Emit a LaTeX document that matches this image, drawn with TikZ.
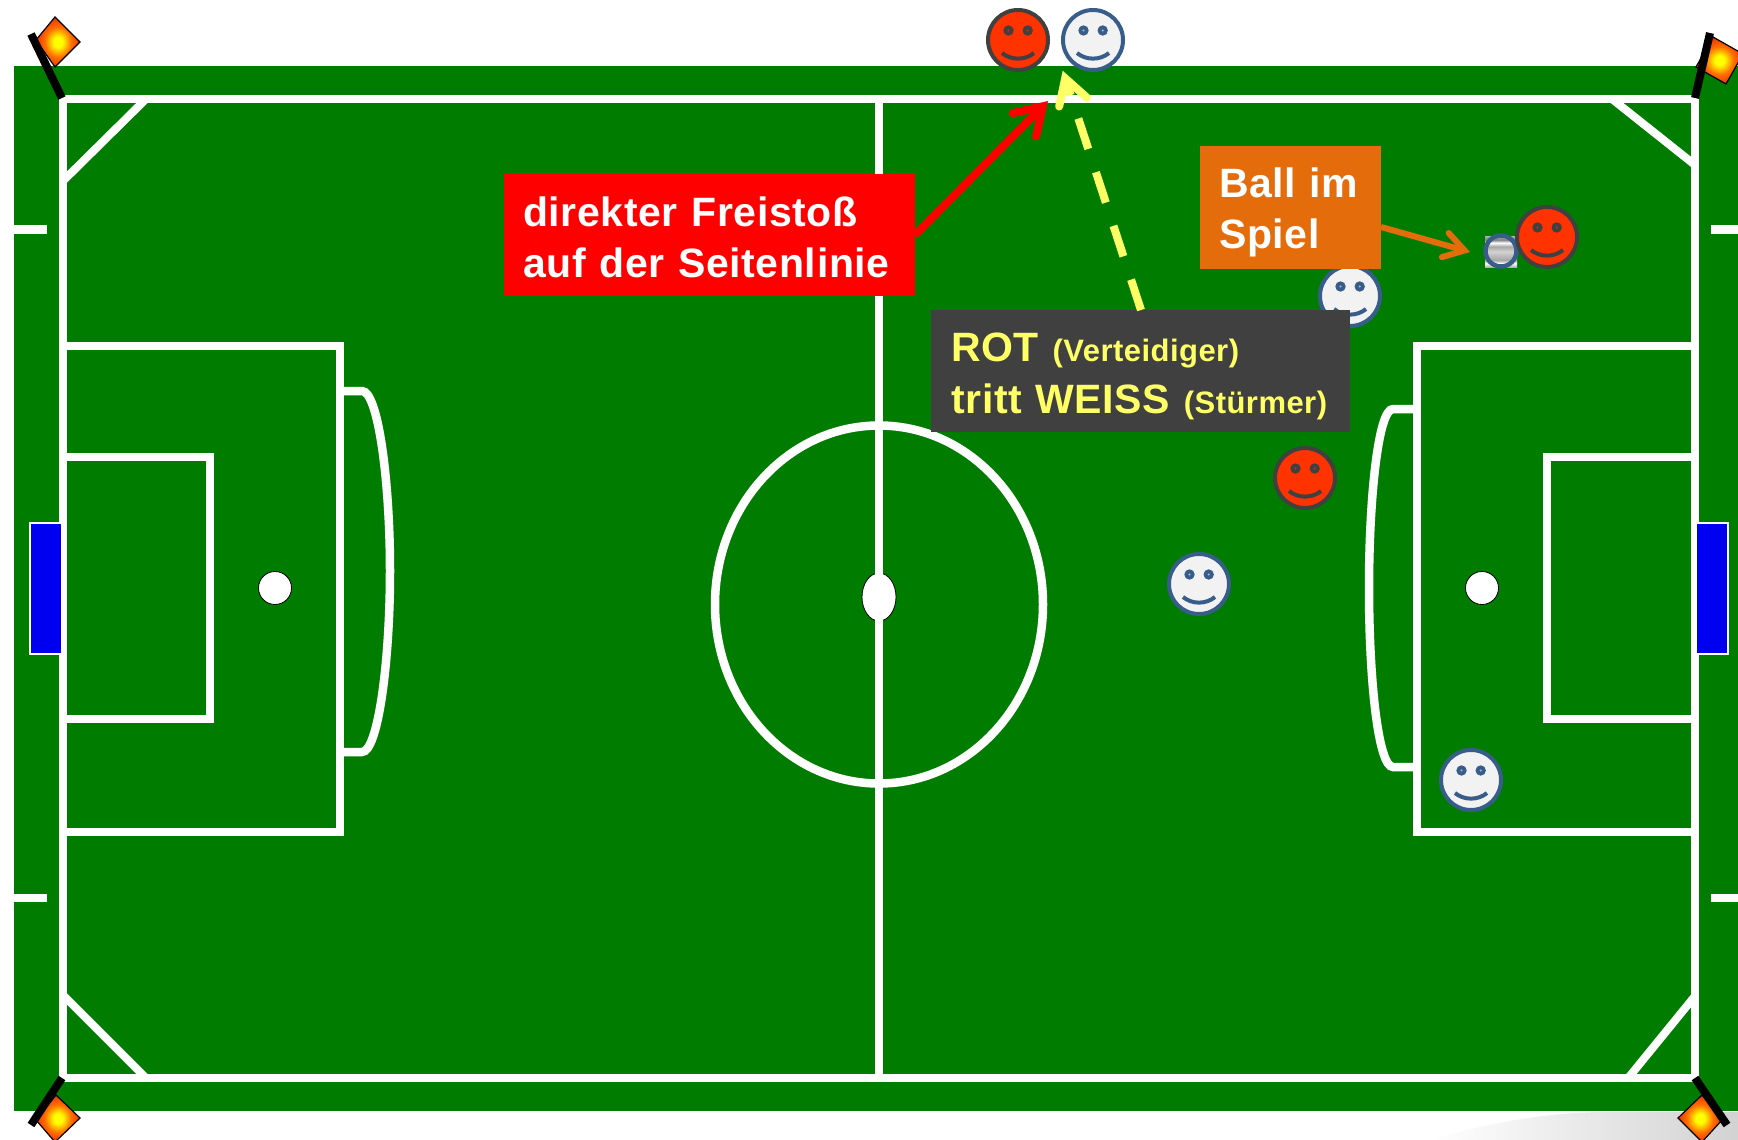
\documentclass[tikz,border=0pt]{standalone}
\usepackage{fontspec}
\setmainfont{Liberation Sans}
\newfontfamily\lab[WordSpace=2.6,LetterSpace=1.5]{Liberation Sans}
\usetikzlibrary{arrows.meta,shapes.geometric}
\definecolor{pitch}{RGB}{0,125,0}
\definecolor{redface}{RGB}{255,51,0}
\definecolor{darkline}{RGB}{64,64,64}
\definecolor{whiteface}{RGB}{242,242,242}
\definecolor{blueline}{RGB}{56,93,138}
\definecolor{orangebox}{RGB}{228,108,10}
\definecolor{yellowtext}{RGB}{255,255,102}
\definecolor{goalblue}{RGB}{0,0,240}
\definecolor{flagmid}{RGB}{255,110,0}
\definecolor{flagout}{RGB}{240,50,0}
\pgfdeclareradialshading{flagshade}{\pgfpoint{0bp}{0bp}}{color(0bp)=(yellow); color(5bp)=(yellow); color(15bp)=(flagmid); color(25bp)=(flagout); color(50bp)=(flagout)}
\pgfdeclareverticalshading{ballshade}{100bp}{color(0bp)=(gray!60); color(25bp)=(gray!60); color(31bp)=(white); color(36bp)=(gray!70); color(42bp)=(gray!55); color(50bp)=(gray!35); color(58bp)=(gray!70); color(64bp)=(white); color(69bp)=(gray); color(75bp)=(gray!60); color(100bp)=(gray!60)}
\tikzset{
  fieldline/.style={draw=white,line width=8.5pt},
  thinline/.style={draw=white,line width=8pt},
  pole/.style={draw=black,line width=8pt},
  flagcloth/.style={draw=black,line width=1.2pt,shading=flagshade},
  goal/.style={fill=goalblue,draw=white,line width=1.2pt},
  spot/.style={circle,draw=black,line width=.8pt,fill=white,minimum size=33pt,inner sep=0pt},
  labelbox/.style={rectangle,inner sep=0pt,align=left,anchor=north west},
  barb/.style n args={3}{-{Straight Barb[length=#1,width=#2,line width=#3,line cap=round,line join=miter]}},
}
\newcommand{\lineat}[2]{\raisebox{-#1}[\height][\depth]{#2}}
\newcommand{\smiley}[4]{% name, position, fill, stroke
  \node[circle,draw=#4,fill=#3,line width=4pt,minimum size=60pt,inner sep=0pt] (#1) at (#2) {};
  \begin{scope}[shift={(#2)}]
    \fill[#4] (-9.5,-9.5) circle (5.2pt) (9.7,-9.5) circle (5.2pt);
    \fill[#3!60!#4] (-9.5,-9.5) circle (1.2pt) (9.7,-9.5) circle (1.2pt);
    \draw[#4,line width=4pt] (-16,13) .. controls (-7,20.5) and (7,20.5) .. (16,13);
  \end{scope}}
\begin{document}
\begin{tikzpicture}[x=1pt,y=-1pt]
\useasboundingbox (0,0) rectangle (1738,1140);
\clip (0,0) rectangle (1738,1140);
\fill[white] (0,0) rectangle (1738,1140);
% grey swoosh
\shade[left color=white,middle color=gray!30,right color=gray!35] (1430,1140) .. controls (1480,1125) and (1540,1113) .. (1600,1112) -- (1738,1112) -- (1738,1140) -- cycle;
% pitch
\fill[pitch] (14,66) rectangle (1738,1111);
% ticks
\draw[white,line width=8.5pt] (14,229.5) -- (47,229.5) (14,898) -- (47,898) (1711,229.5) -- (1738,229.5) (1711,898) -- (1738,898);
% penalty arcs
\draw[fieldline] (341,391) -- (362,391) .. controls (378,391) and (390,480) .. (390,571) .. controls (390,662) and (378,752) .. (362,752) -- (341,752);
\draw[fieldline] (1417,409) -- (1393,409) .. controls (1378,409) and (1369,500) .. (1369,588) .. controls (1369,678) and (1378,767) .. (1393,767) -- (1417,767);
% boxes
\draw[fieldline] (63,346) -- (340,346) -- (340,832) -- (63,832);
\draw[fieldline] (63,457) -- (210,457) -- (210,719) -- (63,719);
\draw[fieldline] (1695,346) -- (1417,346) -- (1417,832) -- (1695,832);
\draw[fieldline] (1695,457) -- (1547,457) -- (1547,719) -- (1695,719);
% corners
\draw[thinline] (63,181) -- (146,99);
\draw[thinline] (1612,99) -- (1695,165);
\draw[thinline] (63,995) -- (145,1077);
\draw[thinline] (1629,1077) -- (1695,996);
% centre
\node[spot,minimum width=34pt,minimum height=48pt,shape=ellipse] (cs) at (879,597) {};
\draw[white,line width=8.5pt] (879,604.5) ellipse [x radius=164,y radius=179];
% outer lines
\draw[fieldline,line join=miter] (63,99) rectangle (1695,1078);
\draw[fieldline] (879,99) -- (879,1078);
% goals
\draw[goal] (30,523) rectangle (62,654);
\draw[goal] (1696,523) rectangle (1728,654);
% penalty spots
\node[spot] (ps1) at (275,588) {};
\node[spot] (ps2) at (1482,588) {};
% flags
\draw[flagcloth] (55,17) -- (80,42) -- (55,67) -- (36,40) -- cycle;
\draw[pole] (31,34) -- (62,98);
\draw[flagcloth] (1713,37) -- (1743,54) -- (1726,84) -- (1696,67) -- cycle;
\draw[pole] (1710,33) -- (1695,98);
\draw[flagcloth] (56,1095) -- (80,1118) -- (55,1142) -- (36,1120) -- cycle;
\draw[pole] (62,1078) -- (31,1125);
\draw[flagcloth] (1702,1095) -- (1722,1120) -- (1702,1142) -- (1678,1118) -- cycle;
\draw[pole] (1695,1078) -- (1727,1125);
% players
\smiley{r1}{1018,40}{redface}{darkline}
\smiley{w1}{1093,40}{whiteface}{blueline}
\smiley{w2}{1350,296}{whiteface}{blueline}
\smiley{r3}{1305,478}{redface}{darkline}
\smiley{w3}{1199,584}{whiteface}{blueline}
\smiley{w4}{1471,780}{whiteface}{blueline}
% ball
\shade[shading=ballshade] (1485,236) rectangle (1517,267);
\node[circle,draw=blueline,line width=4.5pt,minimum size=31pt,inner sep=0pt] (ball) at (1501,251) {};
\smiley{r2}{1547,237}{redface}{darkline}
% label boxes
\node[labelbox,fill=red,text=white,minimum width=411pt,minimum height=122pt,text width=373pt,inner xsep=19pt,font=\lab\bfseries\fontsize{41}{51}\selectfont] (rb) at (504,174) {\lineat{2pt}{direkter Freistoß}\\\lineat{2pt}{auf der Seitenlinie}};
\node[labelbox,fill=orangebox,text=white,minimum width=181pt,minimum height=123pt,text width=143pt,inner xsep=19pt,font=\lab\bfseries\fontsize{41}{51}\selectfont] (ob) at (1200,146) {\lineat{4.5pt}{Ball im}\\\lineat{4.5pt}{Spiel}};
\node[labelbox,fill=darkline,text=yellowtext,minimum width=419pt,minimum height=122pt,text width=379pt,inner xsep=20pt,font=\lab\bfseries\fontsize{41}{52}\selectfont] (gb) at (931,310) {\lineat{5pt}{ROT {\fontsize{31}{52}\selectfont (Verteidiger)}}\\\lineat{5pt}{tritt WEISS {\fontsize{31}{52}\selectfont (Stürmer)}}};
% connectors
\coordinate (rt) at (1048,101);
\coordinate (yt) at (1062.7,70.7);
\coordinate (ot) at (1470,252);
\coordinate (ys) at (1141,310);
\coordinate (rs) at (915,235);
\coordinate (os) at (1381,227);
\draw[red,line width=8pt,barb={26pt}{33pt}{8pt}] (rs) -- (rt);
\draw[yellowtext,line width=8pt,barb={25pt}{29pt}{8pt},dash pattern=on 32pt off 24.5pt] (ys) -- (yt);
\draw[orangebox,line width=6pt,barb={20pt}{25pt}{6pt}] (os) -- (ot);
\end{tikzpicture}
\end{document}
